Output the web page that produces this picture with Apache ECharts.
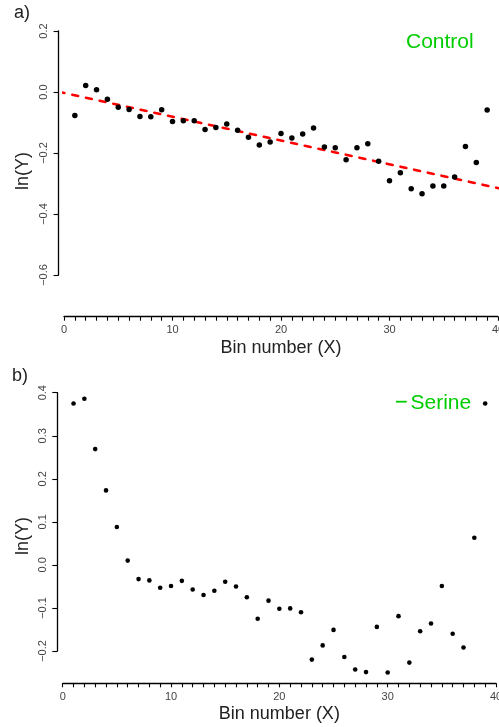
<!DOCTYPE html>
<html>
<head>
<meta charset="utf-8">
<title>ln(Y) by bin number</title>
<script src="https://cdn.jsdelivr.net/npm/echarts@6/dist/echarts.min.js"></script>
<style>
  html, body { margin: 0; padding: 0; background: #fff; }
  #chart { width: 499px; height: 727px; }
</style>
</head>
<body>
<div id="chart"></div>
<script>
// Bin numbers shared by both panels
const bins = [1,2,3,4,5,6,7,8,9,10,11,12,13,14,15,16,17,18,19,20,
              21,22,23,24,25,26,27,28,29,30,31,32,33,34,35,36,37,38,39];

// Panel a) Control: ln(Y) per bin
const controlY = [-0.077, 0.021, 0.007, -0.024, -0.050, -0.057, -0.080, -0.081, -0.058, -0.097,
                  -0.094, -0.094, -0.123, -0.116, -0.105, -0.125, -0.148, -0.174, -0.164, -0.136,
                  -0.151, -0.138, -0.118, -0.180, -0.183, -0.222, -0.183, -0.170, -0.227, -0.291,
                  -0.265, -0.317, -0.334, -0.308, -0.308, -0.279, -0.179, -0.231, -0.059];

// Linear fit for the control series (intercept, slope)
const controlFit = { intercept: -0.003, slope: -0.0078 };
const fitRange = [-0.5, 40.1];

// Panel b) Serine: ln(Y) per bin
const serineY = [0.375, 0.386, 0.269, 0.173, 0.088, 0.010, -0.033, -0.036, -0.053, -0.049,
                 -0.037, -0.057, -0.070, -0.060, -0.039, -0.050, -0.075, -0.125, -0.083, -0.102,
                 -0.101, -0.110, -0.220, -0.187, -0.151, -0.214, -0.243, -0.249, -0.144, -0.250,
                 -0.119, -0.227, -0.154, -0.136, -0.049, -0.160, -0.192, 0.063, 0.375];

// Axis ranges / tick steps
const xAxisRange = { min: 0, max: 40, step: 1, labelEvery: 10 };
const yAxisA = { min: -0.6, max: 0.2, step: 0.2 };
const yAxisB = { min: -0.2, max: 0.4, step: 0.1 };

const FONT = '"Liberation Sans", Arial, Helvetica, sans-serif';
const tickColor = '#444';
const titleColor = '#222';
const green = '#00CD00';

const fmtY = v => (Math.abs(v) < 1e-9 ? '0.0' : v.toFixed(1).replace('-', '\u2212'));

function xAxisOf(gridIndex, offset) {
  return {
    type: 'value', gridIndex,
    min: xAxisRange.min, max: xAxisRange.max, interval: xAxisRange.step,
    offset,
    axisLine: { onZero: false, lineStyle: { color: '#000', width: 1.3 } },
    axisTick: { length: 4, lineStyle: { color: '#000', width: 1.1 } },
    axisLabel: {
      margin: 8, fontSize: 11, color: tickColor, fontFamily: FONT,
      formatter: v => (Math.round(v) % xAxisRange.labelEvery === 0 ? String(Math.round(v)) : '')
    },
    splitLine: { show: false },
    name: 'Bin number (X)', nameLocation: 'middle', nameGap: 22,
    nameTextStyle: { fontSize: 18, color: titleColor, fontFamily: FONT }
  };
}

function yAxisOf(gridIndex, r) {
  return {
    type: 'value', gridIndex,
    min: r.min, max: r.max, interval: r.step,
    offset: 5.4,
    axisLine: { onZero: false, lineStyle: { color: '#000', width: 1.3 } },
    axisTick: { length: 5, lineStyle: { color: '#000', width: 1.1 } },
    axisLabel: {
      rotate: 90, margin: 9, fontSize: 11, color: tickColor, fontFamily: FONT,
      formatter: fmtY
    },
    splitLine: { show: false }
  };
}

const controlPts = bins.map((b, i) => [b, controlY[i]]);
const serinePts = bins.map((b, i) => [b, serineY[i]]);
const fitPts = fitRange.map(x => [x, controlFit.intercept + controlFit.slope * x]);

const chart = echarts.init(document.getElementById('chart'), null, { renderer: 'canvas' });

chart.setOption({
  backgroundColor: '#fff',
  animation: false,
  grid: [
    { left: 64, top: 31, width: 434, height: 244, outerBoundsMode: 'none', containLabel: false },
    { left: 62.7, top: 392.7, width: 433.3, height: 258.3, outerBoundsMode: 'none', containLabel: false }
  ],
  xAxis: [xAxisOf(0, 41.7), xAxisOf(1, 32.3)],
  yAxis: [yAxisOf(0, yAxisA), yAxisOf(1, yAxisB)],
  series: [
    {
      type: 'line', xAxisIndex: 0, yAxisIndex: 0,
      data: fitPts, showSymbol: false, clip: false, z: 1,
      lineStyle: { color: '#FF0000', width: 2.6, type: [6, 8], cap: 'round' }
    },
    {
      type: 'scatter', xAxisIndex: 0, yAxisIndex: 0,
      data: controlPts, symbolSize: 5.5, clip: false, z: 2,
      itemStyle: { color: '#000', opacity: 1 }
    },
    {
      type: 'scatter', xAxisIndex: 1, yAxisIndex: 1,
      data: serinePts, symbolSize: 4.6, clip: false, z: 2,
      itemStyle: { color: '#000', opacity: 1 }
    }
  ],
  graphic: [
    { type: 'text', left: 14, top: 4,
      style: { text: 'a)', fontSize: 18, fill: titleColor, fontFamily: FONT } },
    { type: 'text', left: 12, top: 367,
      style: { text: 'b)', fontSize: 18, fill: titleColor, fontFamily: FONT } },
    { type: 'text', x: 23, y: 171, rotation: Math.PI / 2,
      style: { text: 'ln(Y)', fontSize: 18, fill: titleColor, fontFamily: FONT,
               align: 'center', verticalAlign: 'middle' } },
    { type: 'text', x: 23, y: 536, rotation: Math.PI / 2,
      style: { text: 'ln(Y)', fontSize: 18, fill: titleColor, fontFamily: FONT,
               align: 'center', verticalAlign: 'middle' } },
    { type: 'text', x: 406, y: 42,
      style: { text: 'Control', fontSize: 21, fill: green, fontFamily: FONT,
               align: 'left', verticalAlign: 'middle' } },
    { type: 'line', shape: { x1: 396, y1: 401.7, x2: 406.7, y2: 401.7 },
      style: { stroke: green, lineWidth: 1.8 } },
    { type: 'text', x: 410.5, y: 403,
      style: { text: 'Serine', fontSize: 21, fill: green, fontFamily: FONT,
               align: 'left', verticalAlign: 'middle' } }
  ]
});
</script>
</body>
</html>
